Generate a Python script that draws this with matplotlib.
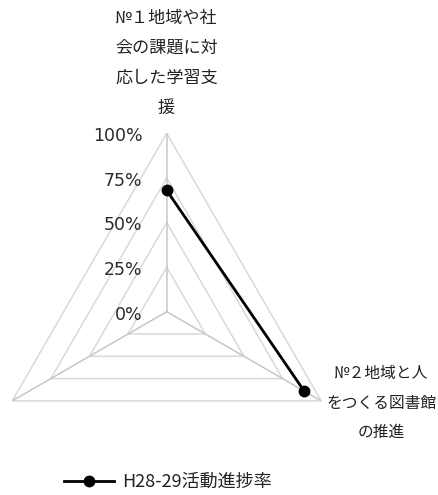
import numpy as np
import matplotlib.pyplot as plt
from matplotlib.transforms import offset_copy

plt.rcParams['font.family'] = ['Noto Sans CJK JP', 'DejaVu Sans']

categories = ['№１地域や社\n会の課題に対\n応した学習支\n援', '№２地域と人\nをつくる図書館\nの推進', '']
values = [68, 89, None]  # third item has no rate yet
ring_ticks = [0, 25, 50, 75, 100]
tick_labels = ['0%', '25%', '50%', '75%', '100%']
series_name = 'H28-29活動進捗率'

W, H = 438, 495
fig = plt.figure(figsize=(W / 100, H / 100), dpi=100)

# radar centre and radius in pixels
cx, cy, rad = 166.7, 311.7, 178.4
ax = fig.add_axes([(cx - rad) / W, (H - cy - rad) / H, 2 * rad / W, 2 * rad / H],
                  projection='polar')
ax.set_theta_offset(np.pi / 2)
ax.set_theta_direction(-1)
ax.set_ylim(0, 100)
ax.grid(False)
ax.set_xticks([])
ax.set_yticks([])
ax.spines['polar'].set_visible(False)
ax.patch.set_visible(False)

n = len(categories)
angles = np.arange(n) * 2 * np.pi / n

# triangular rings
for r in ring_ticks[1:]:
    ax.plot(np.append(angles, angles[0]), [r] * (n + 1), color='#d9d9d9', lw=1.1, zorder=1)
# spokes
for a in angles:
    ax.plot([a, a], [0, 100], color='#c6c6c6', lw=1.1, zorder=1)

# value labels along the first spoke
lab_tr = offset_copy(ax.transData, fig=fig, x=-24, y=-3, units='dots')
for r, t in zip(ring_ticks, tick_labels):
    ax.text(0, r, t, transform=lab_tr, ha='right', va='center',
            fontsize=12.5, color='#2b2b2b', family=['DejaVu Sans'])

# series (no value for the third item, so the line stays open)
pts = [(a, v) for a, v in zip(angles, values) if v is not None]
ax.plot([p[0] for p in pts], [p[1] for p in pts], color='black', lw=2,
        marker='o', markersize=7.5, zorder=3, label=series_name, clip_on=False)

# category labels
fig.text(166.5 / W, 1 - 62.5 / H, categories[0], ha='center', va='center',
         fontsize=12.3, color='#222222', linespacing=1.86)
fig.text(381.5 / W, 1 - 403 / H, categories[1], ha='center', va='center',
         fontsize=11.3, color='#222222', linespacing=1.95)

leg = fig.legend(loc='center', bbox_to_anchor=(168 / W, 1 - 482 / H), frameon=False,
                 fontsize=13, handlelength=2.8, handletextpad=0.45)
for t in leg.get_texts():
    t.set_color('#222222')

fig.savefig('out.png', dpi=100)
